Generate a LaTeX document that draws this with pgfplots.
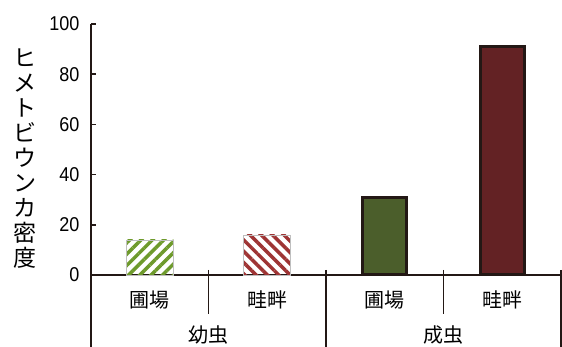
\documentclass[border=0pt]{standalone}
\usepackage{fontspec}
\setmainfont{Liberation Sans}
\newfontfamily\num{Liberation Sans}[FakeStretch=0.9]
\newfontfamily\jp{Noto Sans CJK JP}
\usepackage{pgfplots}
\pgfplotsset{compat=1.18}
\usetikzlibrary{patterns.meta}
\definecolor{ink}{HTML}{231815}
\definecolor{hg}{HTML}{6E9A2C}
\definecolor{hr}{HTML}{9E3434}
\definecolor{sg}{HTML}{4B5E2B}
\definecolor{sr}{HTML}{632224}
\begin{document}
\begin{tikzpicture}
\useasboundingbox (0,0) rectangle (562pt,347pt);
\begin{axis}[at={(91pt,72pt)}, anchor=south west, scale only axis,
  width=470pt, height=251pt,
  xmin=-0.5, xmax=3.5, ymin=0, ymax=100,
  axis x line*=bottom, axis y line*=left,
  axis line style={draw=ink, line width=2.5pt},
  clip=false,
  ytick={0,20,40,60,80,100},
  tick align=inside,
  major tick length=5pt,
  y tick style={draw=ink, line width=1.5pt},
  /pgf/number format/assume math mode=true,
  y tick label style={font=\num\fontsize{20}{20}\selectfont, xshift=-8pt},
  xtick={0,1,2,3},
  xticklabels={圃場,畦畔,圃場,畦畔},
  x tick style={draw=none},
  x tick label style={font=\jp\fontsize{20}{20}\selectfont, anchor=center, yshift=-25pt},
  ]
\addplot[ybar, bar width=47pt, bar shift=0pt, draw=gray!50, line width=0.6pt,
  pattern={Lines[angle=45,distance=8pt,line width=3.5pt]}, pattern color=hg]
  coordinates {(0,14)};
\addplot[ybar, bar width=47pt, bar shift=0pt, draw=gray!50, line width=0.6pt,
  pattern={Lines[angle=-45,distance=8pt,line width=3.5pt]}, pattern color=hr]
  coordinates {(1,16)};
\addplot[ybar, bar width=44pt, bar shift=0pt, draw=ink, line width=3pt, fill=sg]
  coordinates {(2,31)};
\addplot[ybar, bar width=44pt, bar shift=0pt, draw=ink, line width=3pt, fill=sr]
  coordinates {(3,91)};
\draw[ink, line width=2.5pt] (axis cs:-0.5,0) -- ([yshift=-72pt]axis cs:-0.5,0);
\draw[ink, line width=1.5pt] ([yshift=5pt]axis cs:0.5,0) -- ([yshift=-39pt]axis cs:0.5,0);
\draw[ink, line width=1.5pt] ([yshift=5pt]axis cs:2.5,0) -- ([yshift=-39pt]axis cs:2.5,0);
\draw[ink, line width=1.5pt] ([yshift=5pt]axis cs:1.5,0) -- ([yshift=-72pt]axis cs:1.5,0);
\draw[ink, line width=1.5pt] ([yshift=5pt]axis cs:3.5,0) -- ([yshift=-72pt]axis cs:3.5,0);
\node[font=\jp\fontsize{20}{20}\selectfont] at ([yshift=-60pt]axis cs:0.5,0) {幼虫};
\node[font=\jp\fontsize{20}{20}\selectfont] at ([yshift=-60pt]axis cs:2.5,0) {成虫};
\end{axis}
\node[font=\jp\fontsize{23}{25}\selectfont, align=center] at (25pt,188pt)
  {ヒ\\メ\\ト\\ビ\\ウ\\ン\\カ\\密\\度};
\end{tikzpicture}
\end{document}
